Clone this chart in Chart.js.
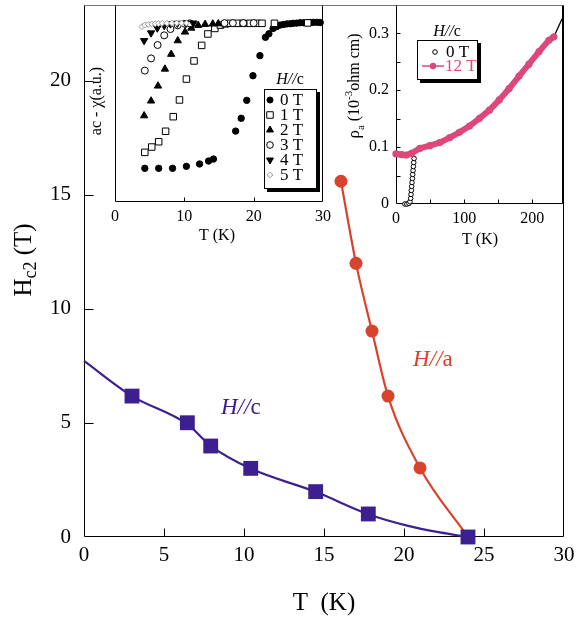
<!DOCTYPE html>
<html>
<head>
<meta charset="utf-8">
<script src="https://cdn.jsdelivr.net/npm/chart.js@4.4.1/dist/chart.umd.min.js"></script>
<style>
html,body{margin:0;padding:0;background:#ffffff;}
#wrap{position:relative;width:578px;height:620px;overflow:hidden;background:#fff;}
#wrap canvas{position:absolute;}
</style>
</head>
<body>
<div id="wrap">
<canvas id="mainChart" width="578" height="620" style="left:0;top:0;width:578px;height:620px"></canvas>
<canvas id="chiChart" width="250" height="250" style="left:84px;top:0;width:250px;height:250px"></canvas>
<canvas id="rhoChart" width="238" height="260" style="left:340px;top:0;width:238px;height:260px"></canvas>
</div>
<script>
// ---------------- Main panel: Hc2(T) ----------------
const mainTempC = [3.0, 6.46, 7.92, 10.42, 14.48, 17.77, 24.0];
const mainHc2C  = [6.18, 5.01, 3.99, 3.01, 1.99, 1.01, 0.0];
const fitTempC  = [0, 3.0, 6.46, 7.92, 10.42, 14.48, 17.77, 20.2, 22.25, 24.0];
const fitHc2C   = [7.72, 6.18, 4.95, 4.0, 3.0, 1.98, 1.0, 0.5, 0.2, 0.0];
const mainTempA = [16.06, 17.0, 18.0, 19.0, 21.0];
const mainHc2A  = [15.6, 12.0, 9.03, 6.18, 3.03];
const fitTempA  = [16.06, 17.0, 18.0, 19.0, 21.0, 24.0];
const fitHc2A   = [15.6, 12.0, 9.03, 6.18, 3.03, 0.0];
const mainXTicks = [0, 5, 10, 15, 20, 25, 30];
const mainYTicks = [0, 5, 10, 15, 20];

// ---------------- Inset 1: ac susceptibility (a.u.) ----------------
const chiLabels = ['0 T', '1 T', '2 T', '3 T', '4 T', '5 T'];
const chiT0 = [4.3, 6.3, 8.3, 10.3, 12.2, 13.5, 14.2, 17.4, 18.2, 19.0, 19.9, 20.9, 21.7, 22.2, 22.8, 23.3, 23.8, 24.3, 24.8, 25.3, 25.7, 26.2, 26.7, 27.2, 27.7, 28.2, 28.6, 29.1, 29.6];
const chiV0 = [17.1, 17.1, 17.1, 18.1, 19.3, 20.8, 21.8, 36.0, 42.5, 51.6, 64.1, 74.3, 83.6, 85.4, 88.1, 89.0, 89.8, 90.1, 90.4, 90.5, 90.7, 90.8, 91.0, 91.0, 91.0, 91.1, 91.2, 91.2, 91.1];
const chiT1 = [4.3, 5.3, 6.3, 7.3, 8.4, 9.3, 10.3, 11.4, 12.5, 13.4, 14.4, 15.2, 15.9, 16.6, 17.6, 18.5, 19.5, 20.5, 21.2, 23.0, 27.8];
const chiV1 = [25.2, 27.9, 30.6, 35.9, 43.3, 51.8, 62.4, 71.6, 79.5, 85.3, 88.1, 89.8, 90.4, 90.7, 90.7, 90.7, 90.7, 90.7, 90.7, 90.7, 90.9];
const chiT2 = [4.2, 5.2, 6.2, 7.2, 8.1, 9.05, 10.1, 11.0, 12.0, 13.0, 14.1, 14.9];
const chiV2 = [43.8, 51.3, 58.9, 67.5, 75.0, 81.9, 86.3, 88.3, 89.7, 90.2, 90.4, 90.5];
const chiT3 = [4.3, 5.2, 6.15, 7.1, 8.0, 9.05, 10.1, 10.8, 15.8, 17.0, 18.5, 20.0];
const chiV3 = [66.7, 72.9, 79.7, 84.6, 87.8, 89.7, 90.4, 90.7, 90.8, 90.8, 90.8, 90.8];
const chiT4 = [4.2, 5.2, 6.1, 7.1, 8.0, 9.0, 10.2, 11.3];
const chiV4 = [81.9, 85.8, 88.3, 89.5, 90.4, 90.7, 90.8, 90.8];
const chiT5 = [3.9, 4.3, 4.8, 5.3, 5.8, 6.3, 6.8, 7.5, 8.2, 8.9, 9.6, 10.3];
const chiV5 = [89.0, 89.8, 90.2, 90.4, 90.5, 90.6, 90.7, 90.7, 90.7, 90.8, 90.8, 90.8];
const chiXTicks = [0, 10, 20, 30];

// ---------------- Inset 2: resistivity ----------------
const rhoT12 = [0, 8, 15, 22.8, 35, 49.5, 64, 78.7, 93, 107.8, 122.4, 137, 151.5, 166, 180.6, 195, 209.8, 224.3, 231.6];
const rho12  = [0.088, 0.087, 0.086, 0.089, 0.098, 0.1025, 0.108, 0.1166, 0.126, 0.137, 0.1506, 0.165, 0.183, 0.203, 0.225, 0.246, 0.268, 0.288, 0.294];
const rhoT0  = [13, 16, 19, 20.5, 21.5, 22, 22.5, 23, 23.5, 24, 24.5, 25, 25.5, 26, 26.5];
const rho0   = [0, 0, 0.001, 0.004, 0.010, 0.017, 0.024, 0.031, 0.038, 0.045, 0.052, 0.059, 0.066, 0.073, 0.080];
const rhoT0High = [224.3, 231.6, 243.7];
const rho0High  = [0.288, 0.294, 0.326];
const rhoXTicks = [0, 100, 200];
const rhoYTicks = [0, 0.1, 0.2, 0.3];
const rhoYTickLabels = ['0', '0.1', '0.2', '0.3'];

// ---------------- helpers ----------------
const SERIF = '"Liberation Serif", "DejaVu Serif", "Times New Roman", serif';
const PURPLE = '#3d2090';
const RED = '#d7432d';
const PINK = '#dc4878';
const zip = (xs, ys) => xs.map((x, i) => ({x: x, y: ys[i]}));
const f = (size, style) => (style ? style + ' ' : '') + size + 'px ' + SERIF;

function drawRich(ctx, cx, cy, parts, rot, color) {
  ctx.save();
  ctx.translate(cx, cy);
  if (rot) ctx.rotate(rot);
  let total = 0;
  parts.forEach(p => { ctx.font = p.font; p.w = ctx.measureText(p.t).width; total += p.w + (p.gap || 0); });
  let x = -total / 2;
  ctx.textBaseline = 'middle';
  ctx.textAlign = 'left';
  parts.forEach(p => {
    ctx.font = p.font; ctx.fillStyle = p.color || color || '#000';
    ctx.fillText(p.t, x, p.dy || 0);
    x += p.w + (p.gap || 0);
  });
  ctx.restore();
}

function marker(ctx, style, x, y, r, fill, stroke, lw) {
  ctx.save();
  ctx.beginPath();
  if (style === 'circle') ctx.arc(x, y, r, 0, Math.PI * 2);
  else if (style === 'rect') { const s = r * Math.SQRT1_2; ctx.rect(x - s, y - s, 2 * s, 2 * s); }
  else if (style === 'triangle') { ctx.moveTo(x, y - r); ctx.lineTo(x + r * 0.866, y + r * 0.5); ctx.lineTo(x - r * 0.866, y + r * 0.5); ctx.closePath(); }
  else if (style === 'triangleDown') { ctx.moveTo(x, y + r); ctx.lineTo(x + r * 0.866, y - r * 0.5); ctx.lineTo(x - r * 0.866, y - r * 0.5); ctx.closePath(); }
  else if (style === 'rectRot') { ctx.moveTo(x, y - r); ctx.lineTo(x + r, y); ctx.lineTo(x, y + r); ctx.lineTo(x - r, y); ctx.closePath(); }
  if (fill) { ctx.fillStyle = fill; ctx.fill(); }
  if (stroke) { ctx.strokeStyle = stroke; ctx.lineWidth = lw || 1; ctx.stroke(); }
  ctx.restore();
}

// frame + inward ticks, drawn under the data
const framePlugin = {
  id: 'framePlugin',
  beforeDatasetsDraw(chart, args, o) {
    const {ctx, chartArea: a, scales} = chart;
    const x = scales.x, y = scales.y;
    ctx.save();
    ctx.lineWidth = 1;
    const L = Math.round(a.left) + 0.5, R = Math.round(a.right) - 0.5, T = Math.round(a.top) + 0.5, B = Math.round(a.bottom) - 0.5;
    ctx.strokeStyle = o.topColor || '#000';
    ctx.beginPath(); ctx.moveTo(L, T); ctx.lineTo(R, T); ctx.stroke();
    ctx.strokeStyle = '#000';
    ctx.beginPath(); ctx.moveTo(L, T); ctx.lineTo(L, B); ctx.lineTo(R, B); ctx.lineTo(R, T); ctx.stroke();
    (o.xTicks || []).forEach(v => {
      const px = Math.round(x.getPixelForValue(v)) + 0.5;
      ctx.beginPath(); ctx.moveTo(px, B); ctx.lineTo(px, B - o.xLen); ctx.stroke();
    });
    (o.yTicks || []).forEach(v => {
      const py = Math.round(y.getPixelForValue(v)) + 0.5;
      ctx.beginPath(); ctx.moveTo(L, py); ctx.lineTo(L + o.yLen, py); ctx.stroke();
    });
    ctx.restore();
  }
};

const baseScale = (min, max, ticksArr, fontSize, pad, fitFn, labels) => ({
  type: 'linear', min: min, max: max,
  afterBuildTicks: s => { s.ticks = ticksArr.map(v => ({value: v})); },
  afterFit: s => { fitFn(s); s.paddingTop = 0; s.paddingBottom = 0; s.paddingLeft = 0; s.paddingRight = 0; },
  grid: {display: false, drawTicks: false},
  border: {display: false},
  ticks: {
    font: {family: SERIF, size: fontSize}, color: '#000', padding: pad,
    maxRotation: 0, autoSkip: false,
    callback: (v, i) => labels ? labels[i] : String(v)
  }
});

// ---------------- Main chart ----------------
new Chart(document.getElementById('mainChart'), {
  type: 'line',
  data: {
    datasets: [
      {label: 'H//c', data: zip(mainTempC, mainHc2C), showLine: false, pointStyle: 'rect', pointRadius: 10.5,
       backgroundColor: PURPLE, borderColor: PURPLE, borderWidth: 0, clip: false, order: 1},
      {label: 'H//a', data: zip(mainTempA, mainHc2A), showLine: false, pointStyle: 'circle', pointRadius: 6.5,
       backgroundColor: RED, borderColor: RED, borderWidth: 0, clip: false, order: 2},
      {label: 'H//c fit', data: zip(fitTempC, fitHc2C), borderColor: PURPLE, borderWidth: 2.2, pointRadius: 0,
       cubicInterpolationMode: 'monotone', fill: false, clip: false, order: 3},
      {label: 'H//a fit', data: zip(fitTempA, fitHc2A), borderColor: RED, borderWidth: 2.2, pointRadius: 0,
       cubicInterpolationMode: 'monotone', fill: false, clip: false, order: 4}
    ]
  },
  options: {
    responsive: false, animation: false, devicePixelRatio: 1,
    layout: {autoPadding: false, padding: {left: 0, top: 5, right: 14, bottom: 0}},
    plugins: {
      legend: {display: false}, tooltip: {enabled: false},
      framePlugin: {xTicks: [5, 10, 15, 20, 25], yTicks: [5, 10, 15, 20], xLen: 8, yLen: 9, topColor: '#777'}
    },
    scales: {
      x: baseScale(0, 30, mainXTicks, 21, 6, s => { s.height = 83; }),
      y: baseScale(0, 23.33, mainYTicks, 21, 13, s => { s.width = 84; })
    }
  },
  plugins: [framePlugin, {
    id: 'mainText',
    afterDatasetsDraw(chart) {
      const {ctx, scales: {x, y}} = chart;
      drawRich(ctx, 24, 260, [
        {t: 'H', font: f(25)}, {t: 'c2', font: f(18), dy: 7, gap: 0}, {t: ' (T)', font: f(25)}
      ], -Math.PI / 2, '#000');
      drawRich(ctx, 324, 603, [{t: 'T  (K)', font: f(25)}], 0, '#000');
      drawRich(ctx, x.getPixelForValue(9.8), y.getPixelForValue(5.66), [
        {t: 'H//', font: f(23, 'italic')}, {t: 'c', font: f(23)}
      ], 0, PURPLE);
      drawRich(ctx, x.getPixelForValue(21.8), y.getPixelForValue(7.76), [
        {t: 'H//', font: f(23, 'italic')}, {t: 'a', font: f(23)}
      ], 0, RED);
    }
  }]
});

// ---------------- Inset 1 ----------------
const chiStyles = [
  {ps: 'circle', r: 3.2, fill: '#000', stroke: '#000'},
  {ps: 'rect', r: 4.6, fill: '#fff', stroke: '#000'},
  {ps: 'triangle', r: 4.2, fill: '#000', stroke: '#000'},
  {ps: 'circle', r: 3.5, fill: '#fff', stroke: '#000'},
  {ps: 'triangleDown', r: 4.2, fill: '#000', stroke: '#000'},
  {ps: 'rectRot', r: 3.0, fill: '#fff', stroke: '#9a9a9a'}
];
const chiSeries = [zip(chiT0, chiV0), zip(chiT1, chiV1), zip(chiT2, chiV2), zip(chiT3, chiV3), zip(chiT4, chiV4), zip(chiT5, chiV5)];
new Chart(document.getElementById('chiChart'), {
  type: 'line',
  data: {
    datasets: chiSeries.map((d, i) => ({
      label: chiLabels[i], data: d, showLine: false,
      pointStyle: chiStyles[i].ps === 'triangleDown' ? 'triangle' : chiStyles[i].ps,
      rotation: chiStyles[i].ps === 'triangleDown' ? 180 : 0,
      pointRadius: chiStyles[i].r, backgroundColor: chiStyles[i].fill, borderColor: chiStyles[i].stroke,
      borderWidth: 1, clip: false, order: 6 - i
    }))
  },
  options: {
    responsive: false, animation: false, devicePixelRatio: 1,
    layout: {autoPadding: false, padding: {left: 0, top: 5, right: 11, bottom: 0}},
    plugins: {
      legend: {display: false}, tooltip: {enabled: false},
      framePlugin: {xTicks: [10, 20], yTicks: [], xLen: 4, yLen: 0, topColor: '#777'}
    },
    scales: {
      x: baseScale(0, 30, chiXTicks, 16, 5, s => { s.height = 48; }),
      y: Object.assign(baseScale(0, 100, [], 15, 0, s => { s.width = 31; }), {ticks: {display: false}})
    }
  },
  plugins: [framePlugin, {
    id: 'chiText',
    afterDatasetsDraw(chart) {
      const ctx = chart.ctx;
      drawRich(ctx, 13, 101, [{t: 'ac - χ(a.u.)', font: f(16)}], -Math.PI / 2, '#000');
      drawRich(ctx, 133, 236, [{t: 'T (K)', font: f(16)}], 0, '#000');
      drawRich(ctx, 206, 80, [{t: 'H//', font: f(16, 'italic')}, {t: 'c', font: f(16)}], 0, '#000');
      ctx.save();
      ctx.fillStyle = '#000'; ctx.fillRect(183, 92, 53, 100);
      ctx.fillStyle = '#fff'; ctx.fillRect(180, 89, 53, 100);
      ctx.strokeStyle = '#000'; ctx.lineWidth = 1; ctx.strokeRect(180.5, 89.5, 52, 99);
      ctx.restore();
      chiLabels.forEach((lab, i) => {
        const yy = 100 + i * 15;
        const s = chiStyles[i];
        marker(ctx, s.ps, 186, yy, s.r * (s.ps === 'rect' ? 1 : 0.95), s.fill, s.stroke, 1);
        ctx.save(); ctx.font = f(17); ctx.fillStyle = '#000'; ctx.textBaseline = 'middle'; ctx.textAlign = 'left';
        ctx.fillText(lab, 196, yy + 1); ctx.restore();
      });
    }
  }]
});

// ---------------- Inset 2 ----------------
new Chart(document.getElementById('rhoChart'), {
  type: 'line',
  data: {
    datasets: [
      {label: '12 T', data: zip(rhoT12, rho12), borderColor: PINK, borderWidth: 6, pointRadius: 3.6,
       pointBackgroundColor: PINK, pointBorderColor: PINK, pointBorderWidth: 0, fill: false, clip: false, order: 1},
      {label: '0 T', data: zip(rhoT0, rho0), showLine: false, pointStyle: 'circle', pointRadius: 2.3,
       backgroundColor: '#fff', borderColor: '#000', borderWidth: 1, clip: false, order: 2},
      {label: '0 T high', data: zip(rhoT0High, rho0High), borderColor: '#000', borderWidth: 1.3, pointRadius: 0,
       fill: false, clip: false, order: 3}
    ]
  },
  options: {
    responsive: false, animation: false, devicePixelRatio: 1,
    layout: {autoPadding: false, padding: {left: 0, top: 5, right: 15, bottom: 0}},
    plugins: {
      legend: {display: false}, tooltip: {enabled: false},
      framePlugin: {xTicks: [50, 100, 150, 200], yTicks: [0.05, 0.1, 0.15, 0.2, 0.25, 0.3], xLen: 4, yLen: 4, topColor: '#777'}
    },
    scales: {
      x: baseScale(0, 245, rhoXTicks, 16, 5, s => { s.height = 56; }),
      y: baseScale(0, 0.35, rhoYTicks, 16, 7, s => { s.width = 56; }, rhoYTickLabels)
    }
  },
  plugins: [framePlugin, {
    id: 'rhoText',
    afterDatasetsDraw(chart) {
      const ctx = chart.ctx;
      drawRich(ctx, 15, 86, [
        {t: 'ρ', font: f(17)}, {t: 'a', font: f(11), dy: 6}, {t: ' (10', font: f(16)},
        {t: '-3', font: f(11), dy: -6}, {t: 'ohm cm)', font: f(16)}
      ], -Math.PI / 2, '#000');
      drawRich(ctx, 140, 240, [{t: 'T (K)', font: f(16)}], 0, '#000');
      drawRich(ctx, 107, 32, [{t: 'H//', font: f(16, 'italic')}, {t: 'c', font: f(16)}], 0, '#000');
      ctx.save();
      ctx.fillStyle = '#000'; ctx.fillRect(80, 43, 61, 40);
      ctx.fillStyle = '#fff'; ctx.fillRect(77, 40, 61, 40);
      ctx.strokeStyle = '#000'; ctx.lineWidth = 1; ctx.strokeRect(77.5, 40.5, 60, 39);
      ctx.restore();
      marker(ctx, 'circle', 95, 52, 2.3, '#fff', '#000', 1);
      ctx.save();
      ctx.strokeStyle = PINK; ctx.lineWidth = 1.5;
      ctx.beginPath(); ctx.moveTo(82, 66); ctx.lineTo(104, 66); ctx.stroke();
      ctx.restore();
      marker(ctx, 'circle', 93, 66, 3.2, PINK, null, 0);
      ctx.save(); ctx.font = f(17); ctx.textBaseline = 'middle'; ctx.textAlign = 'left';
      ctx.fillStyle = '#000'; ctx.fillText('0 T', 106, 53);
      ctx.fillStyle = PINK; ctx.fillText('12 T', 105, 67);
      ctx.restore();
    }
  }]
});
</script>
</body>
</html>
